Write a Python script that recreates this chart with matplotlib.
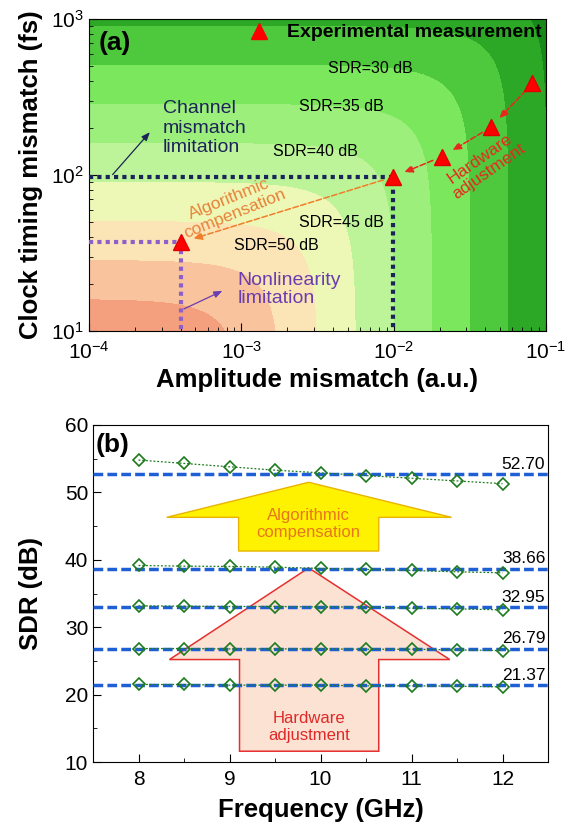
import numpy as np
import matplotlib
matplotlib.use('Agg')
import matplotlib.pyplot as plt
from matplotlib.patches import Polygon

plt.rcParams['font.family'] = 'Liberation Sans'
plt.rcParams['mathtext.fontset'] = 'custom'
plt.rcParams['mathtext.rm'] = 'Liberation Sans'
plt.rcParams['mathtext.it'] = 'Liberation Sans:italic'
plt.rcParams['mathtext.bf'] = 'Liberation Sans:bold'

# ---- (a) data ----
f_sig = 10e9  # Hz, signal frequency used for the SDR map
sdr_levels = [20, 25, 30, 35, 40, 45, 50, 55, 60]
level_colors = ['#16891A', '#2DA826', '#4EC83C', '#7AE75C', '#9DEF7C', '#BDF49A',
                '#EEF8B6', '#FBE4B6', '#F8C39D', '#F4A07F']
exp_amp = [0.0815, 0.0434, 0.0207, 0.00985, 0.000404]   # a.u.
exp_time = [387, 202, 131, 97, 37]                       # fs
sdr_text = ['SDR=30 dB', 'SDR=35 dB', 'SDR=40 dB', 'SDR=45 dB', 'SDR=50 dB']

# ---- (b) data ----
freq = [8, 8.5, 9, 9.5, 10, 10.5, 11, 11.5, 12]
sdr_1 = [54.8, 54.3, 53.8, 53.3, 52.9, 52.5, 52.1, 51.7, 51.3]
sdr_2 = [39.16, 39.06, 39.01, 38.91, 38.72, 38.57, 38.42, 38.22, 38.07]
sdr_3 = [33.17, 33.12, 33.07, 33.07, 33.02, 32.97, 32.82, 32.72, 32.57]
sdr_4 = [26.83, 26.83, 26.78, 26.78, 26.78, 26.73, 26.73, 26.63, 26.53]
sdr_5 = [21.5, 21.5, 21.4, 21.4, 21.4, 21.3, 21.3, 21.25, 21.15]
sdr_mean = [52.70, 38.66, 32.95, 26.79, 21.37]

fig = plt.figure(figsize=(5.69, 8.24), dpi=100)
ax1 = fig.add_axes([89/569, 1-331/824, 457/569, 312/824])
ax2 = fig.add_axes([93/569, 1-762/824, 455/569, 337/824])

# ---------------- panel (a) ----------------
a = np.logspace(-4, -1, 500)
t = np.logspace(1, 3, 500)
A, T = np.meshgrid(a, t)
sdr = -10*np.log10(A**2 + (2*np.pi*f_sig*T*1e-15)**2)
ax1.contourf(A, T, sdr, levels=[0] + sdr_levels + [200], colors=level_colors)
ax1.set_xscale('log')
ax1.set_yscale('log')
ax1.set_xlim(1e-4, 1e-1)
ax1.set_ylim(10, 1000)

navy = '#1A2457'
purple = '#8E5FC8'
ax1.plot([1e-4, exp_amp[3], exp_amp[3]], [exp_time[3], exp_time[3], 10],
         ls=(0, (1, 1)), lw=3, color=navy, dash_capstyle='butt', zorder=3)
ax1.plot([1e-4, exp_amp[4], exp_amp[4]], [exp_time[4], exp_time[4], 10],
         ls=(0, (1, 1)), lw=3, color=purple, dash_capstyle='butt', zorder=3)

for i in range(3):
    ax1.annotate('', xy=(exp_amp[i+1], exp_time[i+1]), xytext=(exp_amp[i], exp_time[i]),
                 arrowprops=dict(arrowstyle='-|>,head_length=0.5,head_width=0.22', ls='--',
                                 lw=1.1, color='#E8281E', shrinkA=7, shrinkB=9), zorder=4)
ax1.annotate('', xy=(exp_amp[4], exp_time[4]), xytext=(exp_amp[3], exp_time[3]),
             arrowprops=dict(arrowstyle='-|>,head_length=0.5,head_width=0.22', ls='--',
                             lw=1.1, color='#F07D2A', shrinkA=7, shrinkB=9), zorder=4)

ax1.plot(exp_amp, exp_time, '^', color='#FF0000', mec='#E00000', ms=11, zorder=5)
ax1.plot([], [], '^', color='#FF0000', ms=11, label='Experimental measurement')
ax1.legend(loc='upper right', frameon=False, prop={'weight': 'bold', 'size': 14},
           handletextpad=0.9, handlelength=1.0, borderaxespad=0.05, borderpad=0.2)

sdr_pos = [(7.06e-3, 483), (4.52e-3, 274), (3.08e-3, 141), (4.56e-3, 49.6), (1.70e-3, 35.5)]
for s, (x, y) in zip(sdr_text, sdr_pos):
    ax1.text(x, y, s, fontsize=11.5, ha='center', va='center')

ax1.text(3.04e-4, 199, 'Channel\nmismatch\nlimitation', fontsize=14, color=navy,
         ha='left', va='center', linespacing=1.2)
ax1.annotate('', xy=(2.58e-4, 194), xytext=(1.39e-4, 97.5),
             arrowprops=dict(arrowstyle='-|>,head_length=0.5,head_width=0.2', lw=0.9, color=navy))
ax1.text(9.47e-4, 18.5, 'Nonlinearity\nlimitation', fontsize=14, color='#6A3DB0',
         ha='left', va='center', linespacing=1.12)
ax1.annotate('', xy=(7.8e-4, 18.4), xytext=(4.04e-4, 13.6),
             arrowprops=dict(arrowstyle='-|>,head_length=0.5,head_width=0.2', lw=0.9, color='#6A3DB0'))
ax1.text(8.71e-4, 62.9, 'Algorithmic\ncompensation', fontsize=12.5, color='#E8823A',
         ha='center', va='center', rotation=22, linespacing=1.1)
ax1.text(0.0395, 116, 'Hardware\nadjustment', fontsize=12.5, color='#E8281E',
         ha='center', va='center', rotation=35, linespacing=1.05)

ax1.text(0.02, 0.923, '(a)', transform=ax1.transAxes, fontsize=19, fontweight='bold',
         va='center', ha='left')
ax1.set_xlabel('Amplitude mismatch (a.u.)', fontsize=18.5, fontweight='bold', labelpad=4)
ax1.set_ylabel('Clock timing mismatch (fs)', fontsize=18.5, fontweight='bold', labelpad=6)
ax1.tick_params(which='both', direction='in', labelsize=15)
ax1.tick_params(which='major', length=6)
ax1.tick_params(which='minor', length=3)
ax1.tick_params(axis='x', pad=7)

# ---------------- panel (b) ----------------
ax2.set_xlim(7.5, 12.5)
ax2.set_ylim(10, 60)

ax2.add_patch(Polygon([(9.87, 51.5), (11.44, 46.3), (10.64, 46.3), (10.64, 41.3),
                       (9.10, 41.3), (9.10, 46.3), (8.31, 46.3)], closed=True,
                      facecolor='#FFF200', edgecolor='#E8B400', lw=1.0, zorder=1))
ax2.add_patch(Polygon([(9.87, 38.8), (11.42, 25.2), (10.64, 25.2), (10.64, 11.6),
                       (9.11, 11.6), (9.11, 25.2), (8.34, 25.2)], closed=True,
                      facecolor='#FBE2D2', edgecolor='#E53030', lw=1.1, zorder=1))
ax2.text(9.87, 45.3, 'Algorithmic\ncompensation', fontsize=12, color='#E8761E',
         ha='center', va='center', linespacing=1.15, zorder=2)
ax2.text(9.87, 15.2, 'Hardware\nadjustment', fontsize=12, color='#E02828',
         ha='center', va='center', linespacing=1.15, zorder=2)

for vals, m in zip([sdr_1, sdr_2, sdr_3, sdr_4, sdr_5], sdr_mean):
    ax2.axhline(m, color='#1F5FD6', ls=(0, (2.8, 1.2)), lw=2.5, zorder=3)
    ax2.plot(freq, vals, ls=(0, (1.5, 1.5)), lw=0.9, color='#1E7A1E', marker='D', ms=6.5,
             mfc='none', mec='#1E7A1E', mew=1.2, zorder=4)
    ax2.text(12.47, m + 0.35, f'{m:.2f}', ha='right', va='bottom', fontsize=12.5, zorder=5)

ax2.text(0.006, 0.94, '(b)', transform=ax2.transAxes, fontsize=19, fontweight='bold',
         va='center', ha='left')
ax2.set_xticks([8, 9, 10, 11, 12])
ax2.set_xticks(np.arange(7.5, 12.6, 0.5), minor=True)
ax2.set_yticks([10, 20, 30, 40, 50, 60])
ax2.set_yticks(np.arange(10, 61, 5), minor=True)
ax2.tick_params(which='both', direction='in', labelsize=15)
ax2.tick_params(which='major', length=6)
ax2.tick_params(which='minor', length=3)
ax2.tick_params(axis='x', pad=6)
ax2.set_xlabel('Frequency (GHz)', fontsize=18.5, fontweight='bold', labelpad=6)
ax2.set_ylabel('SDR (dB)', fontsize=18.5, fontweight='bold', labelpad=16)

fig.savefig('out.png', dpi=100)
